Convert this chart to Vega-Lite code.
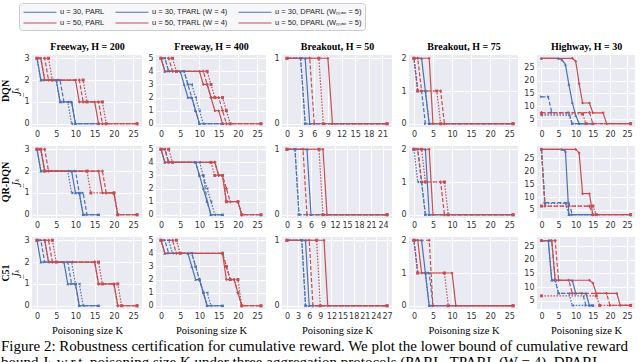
{
"$schema":"https://vega.github.io/schema/vega-lite/v6.json",
"padding":{"left":0,"top":2,"right":0,"bottom":0},
"background":"white",
"datasets":{"d":[
{"p":"d1","s":"A","k":0,"v":3},{"p":"d1","s":"A","k":1,"v":2},{"p":"d1","s":"A","k":5,"v":2},{"p":"d1","s":"A","k":6,"v":1},{"p":"d1","s":"A","k":9,"v":1},{"p":"d1","s":"A","k":10,"v":0},{"p":"d1","s":"A","k":16,"v":0},
{"p":"d1","s":"B","k":0,"v":3},{"p":"d1","s":"B","k":1,"v":2},{"p":"d1","s":"B","k":5,"v":2},{"p":"d1","s":"B","k":6,"v":1},{"p":"d1","s":"B","k":8,"v":1},{"p":"d1","s":"B","k":9,"v":0},{"p":"d1","s":"B","k":16,"v":0},
{"p":"d1","s":"C","k":0,"v":3},{"p":"d1","s":"C","k":1,"v":3},{"p":"d1","s":"C","k":2,"v":2},{"p":"d1","s":"C","k":6,"v":2},{"p":"d1","s":"C","k":7,"v":1},{"p":"d1","s":"C","k":9,"v":1},{"p":"d1","s":"C","k":10,"v":0},{"p":"d1","s":"C","k":16,"v":0},
{"p":"d1","s":"D","k":0,"v":3},{"p":"d1","s":"D","k":1,"v":3},{"p":"d1","s":"D","k":2,"v":2},{"p":"d1","s":"D","k":10,"v":2},{"p":"d1","s":"D","k":11,"v":1},{"p":"d1","s":"D","k":15,"v":1},{"p":"d1","s":"D","k":16,"v":0},{"p":"d1","s":"D","k":26,"v":0},
{"p":"d1","s":"E","k":0,"v":3},{"p":"d1","s":"E","k":3,"v":3},{"p":"d1","s":"E","k":4,"v":2},{"p":"d1","s":"E","k":12,"v":2},{"p":"d1","s":"E","k":13,"v":1},{"p":"d1","s":"E","k":17,"v":1},{"p":"d1","s":"E","k":18,"v":0},{"p":"d1","s":"E","k":26,"v":0},
{"p":"d1","s":"F","k":0,"v":3},{"p":"d1","s":"F","k":2,"v":3},{"p":"d1","s":"F","k":3,"v":2},{"p":"d1","s":"F","k":11,"v":2},{"p":"d1","s":"F","k":12,"v":1},{"p":"d1","s":"F","k":16,"v":1},{"p":"d1","s":"F","k":17,"v":0},{"p":"d1","s":"F","k":26,"v":0},
{"p":"d2","s":"A","k":0,"v":5},{"p":"d2","s":"A","k":1,"v":4},{"p":"d2","s":"A","k":5,"v":4},{"p":"d2","s":"A","k":6,"v":3},{"p":"d2","s":"A","k":7,"v":2},{"p":"d2","s":"A","k":8,"v":2},{"p":"d2","s":"A","k":9,"v":1},{"p":"d2","s":"A","k":10,"v":0},{"p":"d2","s":"A","k":16,"v":0},
{"p":"d2","s":"B","k":0,"v":5},{"p":"d2","s":"B","k":1,"v":5},{"p":"d2","s":"B","k":2,"v":4},{"p":"d2","s":"B","k":6,"v":4},{"p":"d2","s":"B","k":7,"v":3},{"p":"d2","s":"B","k":8,"v":3},{"p":"d2","s":"B","k":9,"v":2},{"p":"d2","s":"B","k":10,"v":1},{"p":"d2","s":"B","k":11,"v":0},{"p":"d2","s":"B","k":16,"v":0},
{"p":"d2","s":"C","k":0,"v":5},{"p":"d2","s":"C","k":1,"v":5},{"p":"d2","s":"C","k":2,"v":4},{"p":"d2","s":"C","k":6,"v":4},{"p":"d2","s":"C","k":7,"v":3},{"p":"d2","s":"C","k":8,"v":2},{"p":"d2","s":"C","k":9,"v":1},{"p":"d2","s":"C","k":10,"v":0},{"p":"d2","s":"C","k":16,"v":0},
{"p":"d2","s":"D","k":0,"v":5},{"p":"d2","s":"D","k":1,"v":4},{"p":"d2","s":"D","k":10,"v":4},{"p":"d2","s":"D","k":11,"v":3},{"p":"d2","s":"D","k":12,"v":3},{"p":"d2","s":"D","k":13,"v":2},{"p":"d2","s":"D","k":14,"v":1},{"p":"d2","s":"D","k":15,"v":1},{"p":"d2","s":"D","k":16,"v":0},{"p":"d2","s":"D","k":26,"v":0},
{"p":"d2","s":"E","k":0,"v":5},{"p":"d2","s":"E","k":3,"v":5},{"p":"d2","s":"E","k":4,"v":4},{"p":"d2","s":"E","k":12,"v":4},{"p":"d2","s":"E","k":13,"v":3},{"p":"d2","s":"E","k":14,"v":2},{"p":"d2","s":"E","k":16,"v":2},{"p":"d2","s":"E","k":17,"v":1},{"p":"d2","s":"E","k":18,"v":0},{"p":"d2","s":"E","k":26,"v":0},
{"p":"d2","s":"F","k":0,"v":5},{"p":"d2","s":"F","k":2,"v":5},{"p":"d2","s":"F","k":3,"v":4},{"p":"d2","s":"F","k":11,"v":4},{"p":"d2","s":"F","k":12,"v":3},{"p":"d2","s":"F","k":13,"v":2},{"p":"d2","s":"F","k":15,"v":2},{"p":"d2","s":"F","k":16,"v":1},{"p":"d2","s":"F","k":17,"v":0},{"p":"d2","s":"F","k":26,"v":0},
{"p":"d3","s":"A","k":0,"v":1},{"p":"d3","s":"A","k":4,"v":1},{"p":"d3","s":"A","k":5,"v":0},{"p":"d3","s":"A","k":22,"v":0},
{"p":"d3","s":"B","k":0,"v":1},{"p":"d3","s":"B","k":3,"v":1},{"p":"d3","s":"B","k":4,"v":0},{"p":"d3","s":"B","k":22,"v":0},
{"p":"d3","s":"C","k":0,"v":1},{"p":"d3","s":"C","k":3,"v":1},{"p":"d3","s":"C","k":4,"v":0},{"p":"d3","s":"C","k":22,"v":0},
{"p":"d3","s":"D","k":0,"v":1},{"p":"d3","s":"D","k":9,"v":1},{"p":"d3","s":"D","k":10,"v":0},{"p":"d3","s":"D","k":22,"v":0},
{"p":"d3","s":"E","k":0,"v":1},{"p":"d3","s":"E","k":7,"v":1},{"p":"d3","s":"E","k":8,"v":0},{"p":"d3","s":"E","k":22,"v":0},
{"p":"d3","s":"F","k":0,"v":1},{"p":"d3","s":"F","k":5,"v":1},{"p":"d3","s":"F","k":6,"v":0},{"p":"d3","s":"F","k":22,"v":0},
{"p":"d4","s":"A","k":0,"v":2},{"p":"d4","s":"A","k":2,"v":2},{"p":"d4","s":"A","k":3,"v":1},{"p":"d4","s":"A","k":4,"v":0},{"p":"d4","s":"A","k":26,"v":0},
{"p":"d4","s":"B","k":0,"v":2},{"p":"d4","s":"B","k":1,"v":1},{"p":"d4","s":"B","k":3,"v":1},{"p":"d4","s":"B","k":4,"v":0},{"p":"d4","s":"B","k":26,"v":0},
{"p":"d4","s":"C","k":0,"v":2},{"p":"d4","s":"C","k":1,"v":1},{"p":"d4","s":"C","k":2,"v":1},{"p":"d4","s":"C","k":3,"v":0},{"p":"d4","s":"C","k":26,"v":0},
{"p":"d4","s":"D","k":0,"v":2},{"p":"d4","s":"D","k":4,"v":2},{"p":"d4","s":"D","k":5,"v":0},{"p":"d4","s":"D","k":26,"v":0},
{"p":"d4","s":"E","k":0,"v":2},{"p":"d4","s":"E","k":1,"v":1},{"p":"d4","s":"E","k":6,"v":1},{"p":"d4","s":"E","k":7,"v":0},{"p":"d4","s":"E","k":26,"v":0},
{"p":"d4","s":"F","k":0,"v":2},{"p":"d4","s":"F","k":1,"v":2},{"p":"d4","s":"F","k":2,"v":1},{"p":"d4","s":"F","k":7,"v":1},{"p":"d4","s":"F","k":8,"v":0},{"p":"d4","s":"F","k":26,"v":0},
{"p":"d5","s":"A","k":0,"v":28.6},{"p":"d5","s":"A","k":5,"v":28.6},{"p":"d5","s":"A","k":6,"v":28},{"p":"d5","s":"A","k":7,"v":26.2},{"p":"d5","s":"A","k":8,"v":18.5},{"p":"d5","s":"A","k":9,"v":11.5},{"p":"d5","s":"A","k":10,"v":6.5},{"p":"d5","s":"A","k":11,"v":3.3},{"p":"d5","s":"A","k":15,"v":3.3},
{"p":"d5","s":"B","k":0,"v":6.6},{"p":"d5","s":"B","k":8,"v":6.6},{"p":"d5","s":"B","k":9,"v":3.3},{"p":"d5","s":"B","k":15,"v":3.3},
{"p":"d5","s":"C","k":0,"v":13.7},{"p":"d5","s":"C","k":2,"v":13.7},{"p":"d5","s":"C","k":3,"v":7.6},{"p":"d5","s":"C","k":8,"v":7.6},{"p":"d5","s":"C","k":9,"v":3.3},{"p":"d5","s":"C","k":15,"v":3.3},
{"p":"d5","s":"D","k":0,"v":28.6},{"p":"d5","s":"D","k":9,"v":28.6},{"p":"d5","s":"D","k":10,"v":27.5},{"p":"d5","s":"D","k":11,"v":18.8},{"p":"d5","s":"D","k":12,"v":11.3},{"p":"d5","s":"D","k":14,"v":11.3},{"p":"d5","s":"D","k":15,"v":7.5},{"p":"d5","s":"D","k":18,"v":7.5},{"p":"d5","s":"D","k":19,"v":3.3},{"p":"d5","s":"D","k":26,"v":3.3},
{"p":"d5","s":"E","k":0,"v":7.1},{"p":"d5","s":"E","k":12,"v":7.1},{"p":"d5","s":"E","k":13,"v":3.3},{"p":"d5","s":"E","k":26,"v":3.3},
{"p":"d5","s":"F","k":0,"v":7.6},{"p":"d5","s":"F","k":14,"v":7.6},{"p":"d5","s":"F","k":15,"v":3.3},{"p":"d5","s":"F","k":26,"v":3.3},
{"p":"q1","s":"A","k":0,"v":3},{"p":"q1","s":"A","k":1,"v":2},{"p":"q1","s":"A","k":9,"v":2},{"p":"q1","s":"A","k":10,"v":1},{"p":"q1","s":"A","k":11,"v":1},{"p":"q1","s":"A","k":12,"v":0},{"p":"q1","s":"A","k":16,"v":0},
{"p":"q1","s":"B","k":0,"v":3},{"p":"q1","s":"B","k":1,"v":2},{"p":"q1","s":"B","k":8,"v":2},{"p":"q1","s":"B","k":9,"v":1},{"p":"q1","s":"B","k":11,"v":1},{"p":"q1","s":"B","k":12,"v":0},{"p":"q1","s":"B","k":16,"v":0},
{"p":"q1","s":"C","k":0,"v":3},{"p":"q1","s":"C","k":1,"v":3},{"p":"q1","s":"C","k":2,"v":2},{"p":"q1","s":"C","k":10,"v":2},{"p":"q1","s":"C","k":11,"v":1},{"p":"q1","s":"C","k":12,"v":1},{"p":"q1","s":"C","k":13,"v":0},{"p":"q1","s":"C","k":16,"v":0},
{"p":"q1","s":"D","k":0,"v":3},{"p":"q1","s":"D","k":1,"v":3},{"p":"q1","s":"D","k":2,"v":2},{"p":"q1","s":"D","k":16,"v":2},{"p":"q1","s":"D","k":17,"v":1},{"p":"q1","s":"D","k":20,"v":1},{"p":"q1","s":"D","k":21,"v":0},{"p":"q1","s":"D","k":26,"v":0},
{"p":"q1","s":"E","k":0,"v":3},{"p":"q1","s":"E","k":1,"v":3},{"p":"q1","s":"E","k":2,"v":2},{"p":"q1","s":"E","k":13,"v":2},{"p":"q1","s":"E","k":14,"v":1},{"p":"q1","s":"E","k":20,"v":1},{"p":"q1","s":"E","k":21,"v":0},{"p":"q1","s":"E","k":26,"v":0},
{"p":"q1","s":"F","k":0,"v":3},{"p":"q1","s":"F","k":2,"v":3},{"p":"q1","s":"F","k":3,"v":2},{"p":"q1","s":"F","k":17,"v":2},{"p":"q1","s":"F","k":18,"v":1},{"p":"q1","s":"F","k":20,"v":1},{"p":"q1","s":"F","k":21,"v":0},{"p":"q1","s":"F","k":26,"v":0},
{"p":"q2","s":"A","k":0,"v":5},{"p":"q2","s":"A","k":1,"v":4},{"p":"q2","s":"A","k":9,"v":4},{"p":"q2","s":"A","k":10,"v":3},{"p":"q2","s":"A","k":11,"v":2},{"p":"q2","s":"A","k":12,"v":1},{"p":"q2","s":"A","k":13,"v":0},{"p":"q2","s":"A","k":16,"v":0},
{"p":"q2","s":"B","k":0,"v":5},{"p":"q2","s":"B","k":1,"v":5},{"p":"q2","s":"B","k":2,"v":4},{"p":"q2","s":"B","k":10,"v":4},{"p":"q2","s":"B","k":11,"v":3},{"p":"q2","s":"B","k":12,"v":2},{"p":"q2","s":"B","k":13,"v":1},{"p":"q2","s":"B","k":14,"v":0},{"p":"q2","s":"B","k":16,"v":0},
{"p":"q2","s":"C","k":0,"v":5},{"p":"q2","s":"C","k":1,"v":5},{"p":"q2","s":"C","k":2,"v":4},{"p":"q2","s":"C","k":9,"v":4},{"p":"q2","s":"C","k":10,"v":3},{"p":"q2","s":"C","k":11,"v":3},{"p":"q2","s":"C","k":12,"v":1},{"p":"q2","s":"C","k":13,"v":0},{"p":"q2","s":"C","k":16,"v":0},
{"p":"q2","s":"D","k":0,"v":5},{"p":"q2","s":"D","k":1,"v":4},{"p":"q2","s":"D","k":14,"v":4},{"p":"q2","s":"D","k":15,"v":3},{"p":"q2","s":"D","k":16,"v":3},{"p":"q2","s":"D","k":17,"v":1},{"p":"q2","s":"D","k":20,"v":1},{"p":"q2","s":"D","k":21,"v":0},{"p":"q2","s":"D","k":26,"v":0},
{"p":"q2","s":"E","k":0,"v":5},{"p":"q2","s":"E","k":2,"v":5},{"p":"q2","s":"E","k":3,"v":4},{"p":"q2","s":"E","k":13,"v":4},{"p":"q2","s":"E","k":14,"v":3},{"p":"q2","s":"E","k":16,"v":3},{"p":"q2","s":"E","k":17,"v":1},{"p":"q2","s":"E","k":20,"v":1},{"p":"q2","s":"E","k":21,"v":0},{"p":"q2","s":"E","k":26,"v":0},
{"p":"q2","s":"F","k":0,"v":5},{"p":"q2","s":"F","k":1,"v":5},{"p":"q2","s":"F","k":2,"v":4},{"p":"q2","s":"F","k":14,"v":4},{"p":"q2","s":"F","k":15,"v":3},{"p":"q2","s":"F","k":16,"v":3},{"p":"q2","s":"F","k":17,"v":2},{"p":"q2","s":"F","k":18,"v":1},{"p":"q2","s":"F","k":20,"v":1},{"p":"q2","s":"F","k":21,"v":0},{"p":"q2","s":"F","k":26,"v":0},
{"p":"q3","s":"A","k":0,"v":1},{"p":"q3","s":"A","k":5,"v":1},{"p":"q3","s":"A","k":6,"v":0},{"p":"q3","s":"A","k":25,"v":0},
{"p":"q3","s":"B","k":0,"v":1},{"p":"q3","s":"B","k":2,"v":1},{"p":"q3","s":"B","k":3,"v":0},{"p":"q3","s":"B","k":25,"v":0},
{"p":"q3","s":"C","k":0,"v":1},{"p":"q3","s":"C","k":2,"v":1},{"p":"q3","s":"C","k":3,"v":0},{"p":"q3","s":"C","k":25,"v":0},
{"p":"q3","s":"D","k":0,"v":1},{"p":"q3","s":"D","k":9,"v":1},{"p":"q3","s":"D","k":10,"v":0},{"p":"q3","s":"D","k":25,"v":0},
{"p":"q3","s":"E","k":0,"v":1},{"p":"q3","s":"E","k":8,"v":1},{"p":"q3","s":"E","k":9,"v":0},{"p":"q3","s":"E","k":25,"v":0},
{"p":"q3","s":"F","k":0,"v":1},{"p":"q3","s":"F","k":4,"v":1},{"p":"q3","s":"F","k":5,"v":0},{"p":"q3","s":"F","k":25,"v":0},
{"p":"q4","s":"A","k":0,"v":2},{"p":"q4","s":"A","k":3,"v":2},{"p":"q4","s":"A","k":4,"v":0},{"p":"q4","s":"A","k":26,"v":0},
{"p":"q4","s":"B","k":0,"v":2},{"p":"q4","s":"B","k":1,"v":1},{"p":"q4","s":"B","k":2,"v":1},{"p":"q4","s":"B","k":3,"v":0},{"p":"q4","s":"B","k":26,"v":0},
{"p":"q4","s":"C","k":0,"v":2},{"p":"q4","s":"C","k":1,"v":2},{"p":"q4","s":"C","k":2,"v":1},{"p":"q4","s":"C","k":3,"v":0},{"p":"q4","s":"C","k":26,"v":0},
{"p":"q4","s":"D","k":0,"v":2},{"p":"q4","s":"D","k":4,"v":2},{"p":"q4","s":"D","k":5,"v":0},{"p":"q4","s":"D","k":26,"v":0},
{"p":"q4","s":"E","k":0,"v":2},{"p":"q4","s":"E","k":2,"v":2},{"p":"q4","s":"E","k":3,"v":1},{"p":"q4","s":"E","k":8,"v":1},{"p":"q4","s":"E","k":9,"v":0},{"p":"q4","s":"E","k":26,"v":0},
{"p":"q4","s":"F","k":0,"v":2},{"p":"q4","s":"F","k":1,"v":2},{"p":"q4","s":"F","k":2,"v":1},{"p":"q4","s":"F","k":7,"v":1},{"p":"q4","s":"F","k":8,"v":0},{"p":"q4","s":"F","k":26,"v":0},
{"p":"q5","s":"A","k":0,"v":28.4},{"p":"q5","s":"A","k":6,"v":28.4},{"p":"q5","s":"A","k":7,"v":27.7},{"p":"q5","s":"A","k":8,"v":3.2},{"p":"q5","s":"A","k":15,"v":3.2},
{"p":"q5","s":"B","k":0,"v":28.4},{"p":"q5","s":"B","k":1,"v":7.5},{"p":"q5","s":"B","k":7,"v":7.5},{"p":"q5","s":"B","k":8,"v":3.2},{"p":"q5","s":"B","k":15,"v":3.2},
{"p":"q5","s":"C","k":0,"v":28.4},{"p":"q5","s":"C","k":1,"v":7.8},{"p":"q5","s":"C","k":8,"v":7.8},{"p":"q5","s":"C","k":9,"v":3.2},{"p":"q5","s":"C","k":15,"v":3.2},
{"p":"q5","s":"D","k":0,"v":28.4},{"p":"q5","s":"D","k":10,"v":28.4},{"p":"q5","s":"D","k":11,"v":27},{"p":"q5","s":"D","k":12,"v":11.3},{"p":"q5","s":"D","k":14,"v":11.3},{"p":"q5","s":"D","k":15,"v":3.2},{"p":"q5","s":"D","k":26,"v":3.2},
{"p":"q5","s":"E","k":0,"v":6.5},{"p":"q5","s":"E","k":15,"v":6.5},{"p":"q5","s":"E","k":16,"v":3.2},{"p":"q5","s":"E","k":26,"v":3.2},
{"p":"q5","s":"F","k":0,"v":28.4},{"p":"q5","s":"F","k":1,"v":6.5},{"p":"q5","s":"F","k":14,"v":6.5},{"p":"q5","s":"F","k":15,"v":3.2},{"p":"q5","s":"F","k":26,"v":3.2},
{"p":"c1","s":"A","k":0,"v":3},{"p":"c1","s":"A","k":1,"v":2},{"p":"c1","s":"A","k":7,"v":2},{"p":"c1","s":"A","k":8,"v":1},{"p":"c1","s":"A","k":10,"v":1},{"p":"c1","s":"A","k":11,"v":0},{"p":"c1","s":"A","k":16,"v":0},
{"p":"c1","s":"B","k":0,"v":3},{"p":"c1","s":"B","k":2,"v":3},{"p":"c1","s":"B","k":3,"v":2},{"p":"c1","s":"B","k":9,"v":2},{"p":"c1","s":"B","k":10,"v":1},{"p":"c1","s":"B","k":11,"v":1},{"p":"c1","s":"B","k":12,"v":0},{"p":"c1","s":"B","k":16,"v":0},
{"p":"c1","s":"C","k":0,"v":3},{"p":"c1","s":"C","k":1,"v":3},{"p":"c1","s":"C","k":2,"v":2},{"p":"c1","s":"C","k":8,"v":2},{"p":"c1","s":"C","k":9,"v":1},{"p":"c1","s":"C","k":10,"v":1},{"p":"c1","s":"C","k":11,"v":0},{"p":"c1","s":"C","k":16,"v":0},
{"p":"c1","s":"D","k":0,"v":3},{"p":"c1","s":"D","k":2,"v":3},{"p":"c1","s":"D","k":3,"v":2},{"p":"c1","s":"D","k":15,"v":2},{"p":"c1","s":"D","k":16,"v":1},{"p":"c1","s":"D","k":20,"v":1},{"p":"c1","s":"D","k":21,"v":0},{"p":"c1","s":"D","k":26,"v":0},
{"p":"c1","s":"E","k":0,"v":3},{"p":"c1","s":"E","k":4,"v":3},{"p":"c1","s":"E","k":5,"v":2},{"p":"c1","s":"E","k":16,"v":2},{"p":"c1","s":"E","k":17,"v":1},{"p":"c1","s":"E","k":21,"v":1},{"p":"c1","s":"E","k":22,"v":0},{"p":"c1","s":"E","k":26,"v":0},
{"p":"c1","s":"F","k":0,"v":3},{"p":"c1","s":"F","k":3,"v":3},{"p":"c1","s":"F","k":4,"v":2},{"p":"c1","s":"F","k":15,"v":2},{"p":"c1","s":"F","k":16,"v":1},{"p":"c1","s":"F","k":20,"v":1},{"p":"c1","s":"F","k":21,"v":0},{"p":"c1","s":"F","k":26,"v":0},
{"p":"c2","s":"A","k":0,"v":5},{"p":"c2","s":"A","k":1,"v":4},{"p":"c2","s":"A","k":7,"v":4},{"p":"c2","s":"A","k":8,"v":3},{"p":"c2","s":"A","k":9,"v":2},{"p":"c2","s":"A","k":10,"v":2},{"p":"c2","s":"A","k":11,"v":1},{"p":"c2","s":"A","k":12,"v":0},{"p":"c2","s":"A","k":16,"v":0},
{"p":"c2","s":"B","k":0,"v":5},{"p":"c2","s":"B","k":2,"v":5},{"p":"c2","s":"B","k":3,"v":4},{"p":"c2","s":"B","k":8,"v":4},{"p":"c2","s":"B","k":9,"v":3},{"p":"c2","s":"B","k":10,"v":2},{"p":"c2","s":"B","k":11,"v":1},{"p":"c2","s":"B","k":12,"v":1},{"p":"c2","s":"B","k":13,"v":0},{"p":"c2","s":"B","k":16,"v":0},
{"p":"c2","s":"C","k":0,"v":5},{"p":"c2","s":"C","k":1,"v":5},{"p":"c2","s":"C","k":2,"v":4},{"p":"c2","s":"C","k":8,"v":4},{"p":"c2","s":"C","k":9,"v":3},{"p":"c2","s":"C","k":10,"v":2},{"p":"c2","s":"C","k":11,"v":1},{"p":"c2","s":"C","k":12,"v":0},{"p":"c2","s":"C","k":16,"v":0},
{"p":"c2","s":"D","k":0,"v":5},{"p":"c2","s":"D","k":1,"v":4},{"p":"c2","s":"D","k":16,"v":4},{"p":"c2","s":"D","k":17,"v":2},{"p":"c2","s":"D","k":19,"v":2},{"p":"c2","s":"D","k":20,"v":1},{"p":"c2","s":"D","k":21,"v":0},{"p":"c2","s":"D","k":26,"v":0},
{"p":"c2","s":"E","k":0,"v":5},{"p":"c2","s":"E","k":4,"v":5},{"p":"c2","s":"E","k":5,"v":4},{"p":"c2","s":"E","k":16,"v":4},{"p":"c2","s":"E","k":17,"v":3},{"p":"c2","s":"E","k":18,"v":2},{"p":"c2","s":"E","k":20,"v":2},{"p":"c2","s":"E","k":21,"v":0},{"p":"c2","s":"E","k":26,"v":0},
{"p":"c2","s":"F","k":0,"v":5},{"p":"c2","s":"F","k":3,"v":5},{"p":"c2","s":"F","k":4,"v":4},{"p":"c2","s":"F","k":16,"v":4},{"p":"c2","s":"F","k":17,"v":3},{"p":"c2","s":"F","k":18,"v":2},{"p":"c2","s":"F","k":19,"v":2},{"p":"c2","s":"F","k":20,"v":1},{"p":"c2","s":"F","k":21,"v":0},{"p":"c2","s":"F","k":26,"v":0},
{"p":"c3","s":"A","k":0,"v":1},{"p":"c3","s":"A","k":5,"v":1},{"p":"c3","s":"A","k":6,"v":0},{"p":"c3","s":"A","k":27,"v":0},
{"p":"c3","s":"B","k":0,"v":1},{"p":"c3","s":"B","k":4,"v":1},{"p":"c3","s":"B","k":5,"v":0},{"p":"c3","s":"B","k":27,"v":0},
{"p":"c3","s":"C","k":0,"v":1},{"p":"c3","s":"C","k":4,"v":1},{"p":"c3","s":"C","k":5,"v":0},{"p":"c3","s":"C","k":27,"v":0},
{"p":"c3","s":"D","k":0,"v":1},{"p":"c3","s":"D","k":10,"v":1},{"p":"c3","s":"D","k":11,"v":0},{"p":"c3","s":"D","k":27,"v":0},
{"p":"c3","s":"E","k":0,"v":1},{"p":"c3","s":"E","k":8,"v":1},{"p":"c3","s":"E","k":9,"v":0},{"p":"c3","s":"E","k":27,"v":0},
{"p":"c3","s":"F","k":0,"v":1},{"p":"c3","s":"F","k":6,"v":1},{"p":"c3","s":"F","k":7,"v":0},{"p":"c3","s":"F","k":27,"v":0},
{"p":"c4","s":"A","k":0,"v":2},{"p":"c4","s":"A","k":2,"v":2},{"p":"c4","s":"A","k":3,"v":1},{"p":"c4","s":"A","k":4,"v":0},{"p":"c4","s":"A","k":26,"v":0},
{"p":"c4","s":"B","k":0,"v":2},{"p":"c4","s":"B","k":1,"v":1},{"p":"c4","s":"B","k":3,"v":1},{"p":"c4","s":"B","k":4,"v":0},{"p":"c4","s":"B","k":26,"v":0},
{"p":"c4","s":"C","k":0,"v":2},{"p":"c4","s":"C","k":1,"v":1},{"p":"c4","s":"C","k":4,"v":1},{"p":"c4","s":"C","k":5,"v":0},{"p":"c4","s":"C","k":26,"v":0},
{"p":"c4","s":"D","k":0,"v":2},{"p":"c4","s":"D","k":1,"v":2},{"p":"c4","s":"D","k":2,"v":1},{"p":"c4","s":"D","k":10,"v":1},{"p":"c4","s":"D","k":11,"v":0},{"p":"c4","s":"D","k":26,"v":0},
{"p":"c4","s":"E","k":0,"v":2},{"p":"c4","s":"E","k":1,"v":1},{"p":"c4","s":"E","k":8,"v":1},{"p":"c4","s":"E","k":9,"v":0},{"p":"c4","s":"E","k":26,"v":0},
{"p":"c4","s":"F","k":0,"v":2},{"p":"c4","s":"F","k":4,"v":2},{"p":"c4","s":"F","k":5,"v":0},{"p":"c4","s":"F","k":26,"v":0},
{"p":"c5","s":"A","k":0,"v":27},{"p":"c5","s":"A","k":2,"v":27},{"p":"c5","s":"A","k":3,"v":12.5},{"p":"c5","s":"A","k":9,"v":12.5},{"p":"c5","s":"A","k":10,"v":7.7},{"p":"c5","s":"A","k":13,"v":7.7},{"p":"c5","s":"A","k":14,"v":3.3},{"p":"c5","s":"A","k":15,"v":3.3},
{"p":"c5","s":"B","k":0,"v":27},{"p":"c5","s":"B","k":2,"v":27},{"p":"c5","s":"B","k":3,"v":12.5},{"p":"c5","s":"B","k":4,"v":12.5},{"p":"c5","s":"B","k":5,"v":7.7},{"p":"c5","s":"B","k":8,"v":7.7},{"p":"c5","s":"B","k":9,"v":3.3},{"p":"c5","s":"B","k":15,"v":3.3},
{"p":"c5","s":"C","k":0,"v":27},{"p":"c5","s":"C","k":3,"v":27},{"p":"c5","s":"C","k":4,"v":12.5},{"p":"c5","s":"C","k":5,"v":7.7},{"p":"c5","s":"C","k":12,"v":7.7},{"p":"c5","s":"C","k":13,"v":3.3},{"p":"c5","s":"C","k":15,"v":3.3},
{"p":"c5","s":"D","k":0,"v":27},{"p":"c5","s":"D","k":3,"v":27},{"p":"c5","s":"D","k":4,"v":12.5},{"p":"c5","s":"D","k":14,"v":12.5},{"p":"c5","s":"D","k":15,"v":11.5},{"p":"c5","s":"D","k":16,"v":7.7},{"p":"c5","s":"D","k":22,"v":7.7},{"p":"c5","s":"D","k":23,"v":3.3},{"p":"c5","s":"D","k":26,"v":3.3},
{"p":"c5","s":"E","k":0,"v":6.8},{"p":"c5","s":"E","k":16,"v":6.8},{"p":"c5","s":"E","k":17,"v":3.3},{"p":"c5","s":"E","k":26,"v":3.3},
{"p":"c5","s":"F","k":0,"v":27},{"p":"c5","s":"F","k":4,"v":27},{"p":"c5","s":"F","k":5,"v":12.5},{"p":"c5","s":"F","k":8,"v":12.5},{"p":"c5","s":"F","k":9,"v":7.7},{"p":"c5","s":"F","k":19,"v":7.7},{"p":"c5","s":"F","k":20,"v":3.3},{"p":"c5","s":"F","k":26,"v":3.3}
]},
"data":{"name":"d"},
"title":{"text":"Figure 2: Robustness certification for cumulative reward. We plot the lower bound of cumulative reward","subtitle":"bound J̲ₖ w.r.t. poisoning size K under three aggregation protocols (PARL, TPARL (W = 4), DPARL","orient":"bottom","anchor":"start","frame":"bounds","font":"Liberation Serif","fontSize":15,"fontWeight":"normal","subtitleFont":"Liberation Serif","subtitleFontSize":15,"subtitleFontStyle":"normal","color":"black","subtitleColor":"black","offset":3,"subtitlePadding":1},
"columns":5,
"spacing":{"row":4,"column":5},
"concat":[
{"width":110,"height":72,"transform":[{"filter":"datum.p=='d1'"}],"title":{"text":"DQN","subtitle":"J̲ₖ","orient":"left"},"resolve":{"axis":{"x":"independent"}},
"encoding":{"x":{"field":"k","type":"quantitative","scale":{"domain":[-1.3,27.3],"nice":false,"zero":false},"axis":{"values":[0,5,10,15,20,25],"title":null,"minExtent":14,"maxExtent":14}},"y":{"field":"v","type":"quantitative","scale":{"domain":[-0.15,3.15],"nice":false,"zero":false},"axis":{"values":[0,1,2,3],"format":"d","title":null,"minExtent":9,"maxExtent":9}},"color":{"field":"s","type":"nominal","title":null,"legend":{"orient":"none","legendX":-13,"legendY":-52,"columns":3,"direction":"horizontal","symbolType":"M-3.3,0H3.3","labelExpr":"datum.label=='A'?'u = 30, PARL':datum.label=='B'?'u = 30, TPARL (W = 4)':datum.label=='C'?'u = 30, DPARL (Wₘₐₓ = 5)':datum.label=='D'?'u = 50, PARL':datum.label=='E'?'u = 50, TPARL (W = 4)':'u = 50, DPARL (Wₘₐₓ = 5)'"}}},
"layer":[{"mark":"line","encoding":{"strokeDash":{"field":"s","type":"nominal","title":null,"scale":{"range":[[1,0],[1.5,1.5],[4,2],[1,0],[1.5,1.5],[4,2]]}}}},{"mark":"point","encoding":{"shape":{"field":"s","type":"nominal","legend":null},"x":{"field":"k","type":"quantitative","axis":{"orient":"top","title":"Freeway, H = 200","labels":false,"grid":false,"minExtent":0,"maxExtent":0,"titlePadding":4,"titleFontWeight":"bold","titleFontSize":10}}}}]},
{"width":110,"height":72,"transform":[{"filter":"datum.p=='d2'"}],"resolve":{"axis":{"x":"independent"}},
"encoding":{"x":{"field":"k","type":"quantitative","scale":{"domain":[-1.3,27.3],"nice":false,"zero":false},"axis":{"values":[0,5,10,15,20,25],"title":null,"minExtent":14,"maxExtent":14}},"y":{"field":"v","type":"quantitative","scale":{"domain":[-0.25,5.25],"nice":false,"zero":false},"axis":{"values":[0,1,2,3,4,5],"format":"d","title":null,"minExtent":9,"maxExtent":9}},"color":{"field":"s","type":"nominal","title":null}},
"layer":[{"mark":"line","encoding":{"strokeDash":{"field":"s","type":"nominal","title":null,"scale":{"range":[[1,0],[1.5,1.5],[4,2],[1,0],[1.5,1.5],[4,2]]}}}},{"mark":"point","encoding":{"shape":{"field":"s","type":"nominal","legend":null},"x":{"field":"k","type":"quantitative","axis":{"orient":"top","title":"Freeway, H = 400","labels":false,"grid":false,"minExtent":0,"maxExtent":0,"titlePadding":4,"titleFontWeight":"bold","titleFontSize":10}}}}]},
{"width":110,"height":72,"transform":[{"filter":"datum.p=='d3'"}],"resolve":{"axis":{"x":"independent"}},
"encoding":{"x":{"field":"k","type":"quantitative","scale":{"domain":[-1.1,23.1],"nice":false,"zero":false},"axis":{"values":[0,3,6,9,12,15,18,21],"title":null,"minExtent":14,"maxExtent":14}},"y":{"field":"v","type":"quantitative","scale":{"domain":[-0.05,1.05],"nice":false,"zero":false},"axis":{"values":[0,1],"format":"d","title":null,"minExtent":11,"maxExtent":11}},"color":{"field":"s","type":"nominal","title":null}},
"layer":[{"mark":"line","encoding":{"strokeDash":{"field":"s","type":"nominal","title":null,"scale":{"range":[[1,0],[1.5,1.5],[4,2],[1,0],[1.5,1.5],[4,2]]}}}},{"mark":"point","encoding":{"shape":{"field":"s","type":"nominal","legend":null},"x":{"field":"k","type":"quantitative","axis":{"orient":"top","title":"Breakout, H = 50","labels":false,"grid":false,"minExtent":0,"maxExtent":0,"titlePadding":4,"titleFontWeight":"bold","titleFontSize":10}}}}]},
{"width":109,"height":72,"transform":[{"filter":"datum.p=='d4'"}],"resolve":{"axis":{"x":"independent"}},
"encoding":{"x":{"field":"k","type":"quantitative","scale":{"domain":[-1.3,27.3],"nice":false,"zero":false},"axis":{"values":[0,5,10,15,20,25],"title":null,"minExtent":14,"maxExtent":14}},"y":{"field":"v","type":"quantitative","scale":{"domain":[-0.1,2.1],"nice":false,"zero":false},"axis":{"values":[0,1,2],"format":"d","title":null,"minExtent":11,"maxExtent":11}},"color":{"field":"s","type":"nominal","title":null}},
"layer":[{"mark":"line","encoding":{"strokeDash":{"field":"s","type":"nominal","title":null,"scale":{"range":[[1,0],[1.5,1.5],[4,2],[1,0],[1.5,1.5],[4,2]]}}}},{"mark":"point","encoding":{"shape":{"field":"s","type":"nominal","legend":null},"x":{"field":"k","type":"quantitative","axis":{"orient":"top","title":"Breakout, H = 75","labels":false,"grid":false,"minExtent":0,"maxExtent":0,"titlePadding":4,"titleFontWeight":"bold","titleFontSize":10}}}}]},
{"width":98,"height":72,"transform":[{"filter":"datum.p=='d5'"}],"resolve":{"axis":{"x":"independent"}},
"encoding":{"x":{"field":"k","type":"quantitative","scale":{"domain":[-1.3,27.3],"nice":false,"zero":false},"axis":{"values":[0,5,10,15,20,25],"title":null,"minExtent":14,"maxExtent":14}},"y":{"field":"v","type":"quantitative","scale":{"domain":[2.0,29.9],"nice":false,"zero":false},"axis":{"values":[5,10,15,20,25],"format":"d","title":null,"minExtent":12,"maxExtent":12}},"color":{"field":"s","type":"nominal","title":null}},
"layer":[{"mark":"line","encoding":{"strokeDash":{"field":"s","type":"nominal","title":null,"scale":{"range":[[1,0],[1.5,1.5],[4,2],[1,0],[1.5,1.5],[4,2]]}}}},{"mark":"point","encoding":{"shape":{"field":"s","type":"nominal","legend":null},"x":{"field":"k","type":"quantitative","axis":{"orient":"top","title":"Highway, H = 30","labels":false,"grid":false,"minExtent":0,"maxExtent":0,"titlePadding":4,"titleFontWeight":"bold","titleFontSize":10}}}}]},
{"width":110,"height":72,"transform":[{"filter":"datum.p=='q1'"}],"title":{"text":"QR-DQN","subtitle":"J̲ₖ","orient":"left"},
"encoding":{"x":{"field":"k","type":"quantitative","scale":{"domain":[-1.3,27.3],"nice":false,"zero":false},"axis":{"values":[0,5,10,15,20,25],"title":null,"minExtent":14,"maxExtent":14}},"y":{"field":"v","type":"quantitative","scale":{"domain":[-0.15,3.15],"nice":false,"zero":false},"axis":{"values":[0,1,2,3],"format":"d","title":null,"minExtent":9,"maxExtent":9}},"color":{"field":"s","type":"nominal","title":null}},
"layer":[{"mark":"line","encoding":{"strokeDash":{"field":"s","type":"nominal","title":null,"scale":{"range":[[1,0],[1.5,1.5],[4,2],[1,0],[1.5,1.5],[4,2]]}}}},{"mark":"point","encoding":{"shape":{"field":"s","type":"nominal","legend":null}}}]},
{"width":110,"height":72,"transform":[{"filter":"datum.p=='q2'"}],
"encoding":{"x":{"field":"k","type":"quantitative","scale":{"domain":[-1.3,27.3],"nice":false,"zero":false},"axis":{"values":[0,5,10,15,20,25],"title":null,"minExtent":14,"maxExtent":14}},"y":{"field":"v","type":"quantitative","scale":{"domain":[-0.25,5.25],"nice":false,"zero":false},"axis":{"values":[0,1,2,3,4,5],"format":"d","title":null,"minExtent":9,"maxExtent":9}},"color":{"field":"s","type":"nominal","title":null}},
"layer":[{"mark":"line","encoding":{"strokeDash":{"field":"s","type":"nominal","title":null,"scale":{"range":[[1,0],[1.5,1.5],[4,2],[1,0],[1.5,1.5],[4,2]]}}}},{"mark":"point","encoding":{"shape":{"field":"s","type":"nominal","legend":null}}}]},
{"width":110,"height":72,"transform":[{"filter":"datum.p=='q3'"}],
"encoding":{"x":{"field":"k","type":"quantitative","scale":{"domain":[-1.25,26.25],"nice":false,"zero":false},"axis":{"values":[0,3,6,9,12,15,18,21,24],"title":null,"minExtent":14,"maxExtent":14}},"y":{"field":"v","type":"quantitative","scale":{"domain":[-0.05,1.05],"nice":false,"zero":false},"axis":{"values":[0,1],"format":"d","title":null,"minExtent":11,"maxExtent":11}},"color":{"field":"s","type":"nominal","title":null}},
"layer":[{"mark":"line","encoding":{"strokeDash":{"field":"s","type":"nominal","title":null,"scale":{"range":[[1,0],[1.5,1.5],[4,2],[1,0],[1.5,1.5],[4,2]]}}}},{"mark":"point","encoding":{"shape":{"field":"s","type":"nominal","legend":null}}}]},
{"width":109,"height":72,"transform":[{"filter":"datum.p=='q4'"}],
"encoding":{"x":{"field":"k","type":"quantitative","scale":{"domain":[-1.3,27.3],"nice":false,"zero":false},"axis":{"values":[0,5,10,15,20,25],"title":null,"minExtent":14,"maxExtent":14}},"y":{"field":"v","type":"quantitative","scale":{"domain":[-0.1,2.1],"nice":false,"zero":false},"axis":{"values":[0,1,2],"format":"d","title":null,"minExtent":11,"maxExtent":11}},"color":{"field":"s","type":"nominal","title":null}},
"layer":[{"mark":"line","encoding":{"strokeDash":{"field":"s","type":"nominal","title":null,"scale":{"range":[[1,0],[1.5,1.5],[4,2],[1,0],[1.5,1.5],[4,2]]}}}},{"mark":"point","encoding":{"shape":{"field":"s","type":"nominal","legend":null}}}]},
{"width":98,"height":72,"transform":[{"filter":"datum.p=='q5'"}],
"encoding":{"x":{"field":"k","type":"quantitative","scale":{"domain":[-1.3,27.3],"nice":false,"zero":false},"axis":{"values":[0,5,10,15,20,25],"title":null,"minExtent":14,"maxExtent":14}},"y":{"field":"v","type":"quantitative","scale":{"domain":[1.9,29.7],"nice":false,"zero":false},"axis":{"values":[5,10,15,20,25],"format":"d","title":null,"minExtent":12,"maxExtent":12}},"color":{"field":"s","type":"nominal","title":null}},
"layer":[{"mark":"line","encoding":{"strokeDash":{"field":"s","type":"nominal","title":null,"scale":{"range":[[1,0],[1.5,1.5],[4,2],[1,0],[1.5,1.5],[4,2]]}}}},{"mark":"point","encoding":{"shape":{"field":"s","type":"nominal","legend":null}}}]},
{"width":110,"height":72,"transform":[{"filter":"datum.p=='c1'"}],"title":{"text":"C51","subtitle":"J̲ₖ","orient":"left"},
"encoding":{"x":{"field":"k","type":"quantitative","scale":{"domain":[-1.3,27.3],"nice":false,"zero":false},"axis":{"values":[0,5,10,15,20,25],"title":"Poisoning size K","minExtent":14,"maxExtent":14}},"y":{"field":"v","type":"quantitative","scale":{"domain":[-0.15,3.15],"nice":false,"zero":false},"axis":{"values":[0,1,2,3],"format":"d","title":null,"minExtent":9,"maxExtent":9}},"color":{"field":"s","type":"nominal","title":null}},
"layer":[{"mark":"line","encoding":{"strokeDash":{"field":"s","type":"nominal","title":null,"scale":{"range":[[1,0],[1.5,1.5],[4,2],[1,0],[1.5,1.5],[4,2]]}}}},{"mark":"point","encoding":{"shape":{"field":"s","type":"nominal","legend":null}}}]},
{"width":110,"height":72,"transform":[{"filter":"datum.p=='c2'"}],
"encoding":{"x":{"field":"k","type":"quantitative","scale":{"domain":[-1.3,27.3],"nice":false,"zero":false},"axis":{"values":[0,5,10,15,20,25],"title":"Poisoning size K","minExtent":14,"maxExtent":14}},"y":{"field":"v","type":"quantitative","scale":{"domain":[-0.25,5.25],"nice":false,"zero":false},"axis":{"values":[0,1,2,3,4,5],"format":"d","title":null,"minExtent":9,"maxExtent":9}},"color":{"field":"s","type":"nominal","title":null}},
"layer":[{"mark":"line","encoding":{"strokeDash":{"field":"s","type":"nominal","title":null,"scale":{"range":[[1,0],[1.5,1.5],[4,2],[1,0],[1.5,1.5],[4,2]]}}}},{"mark":"point","encoding":{"shape":{"field":"s","type":"nominal","legend":null}}}]},
{"width":110,"height":72,"transform":[{"filter":"datum.p=='c3'"}],
"encoding":{"x":{"field":"k","type":"quantitative","scale":{"domain":[-1.35,28.35],"nice":false,"zero":false},"axis":{"values":[0,3,6,9,12,15,18,21,24,27],"title":"Poisoning size K","minExtent":14,"maxExtent":14}},"y":{"field":"v","type":"quantitative","scale":{"domain":[-0.05,1.05],"nice":false,"zero":false},"axis":{"values":[0,1],"format":"d","title":null,"minExtent":11,"maxExtent":11}},"color":{"field":"s","type":"nominal","title":null}},
"layer":[{"mark":"line","encoding":{"strokeDash":{"field":"s","type":"nominal","title":null,"scale":{"range":[[1,0],[1.5,1.5],[4,2],[1,0],[1.5,1.5],[4,2]]}}}},{"mark":"point","encoding":{"shape":{"field":"s","type":"nominal","legend":null}}}]},
{"width":109,"height":72,"transform":[{"filter":"datum.p=='c4'"}],
"encoding":{"x":{"field":"k","type":"quantitative","scale":{"domain":[-1.3,27.3],"nice":false,"zero":false},"axis":{"values":[0,5,10,15,20,25],"title":"Poisoning size K","minExtent":14,"maxExtent":14}},"y":{"field":"v","type":"quantitative","scale":{"domain":[-0.1,2.1],"nice":false,"zero":false},"axis":{"values":[0,1,2],"format":"d","title":null,"minExtent":11,"maxExtent":11}},"color":{"field":"s","type":"nominal","title":null}},
"layer":[{"mark":"line","encoding":{"strokeDash":{"field":"s","type":"nominal","title":null,"scale":{"range":[[1,0],[1.5,1.5],[4,2],[1,0],[1.5,1.5],[4,2]]}}}},{"mark":"point","encoding":{"shape":{"field":"s","type":"nominal","legend":null}}}]},
{"width":98,"height":72,"transform":[{"filter":"datum.p=='c5'"}],
"encoding":{"x":{"field":"k","type":"quantitative","scale":{"domain":[-1.3,27.3],"nice":false,"zero":false},"axis":{"values":[0,5,10,15,20,25],"title":"Poisoning size K","minExtent":14,"maxExtent":14}},"y":{"field":"v","type":"quantitative","scale":{"domain":[2.0,28.3],"nice":false,"zero":false},"axis":{"values":[5,10,15,20,25],"format":"d","title":null,"minExtent":12,"maxExtent":12}},"color":{"field":"s","type":"nominal","title":null}},
"layer":[{"mark":"line","encoding":{"strokeDash":{"field":"s","type":"nominal","title":null,"scale":{"range":[[1,0],[1.5,1.5],[4,2],[1,0],[1.5,1.5],[4,2]]}}}},{"mark":"point","encoding":{"shape":{"field":"s","type":"nominal","legend":null}}}]}
],
"config":{
"view":{"fill":"#EAEAF2","stroke":null},
"axis":{"domain":false,"ticks":false,"tickSize":0,"gridColor":"#FFFFFF","gridWidth":1,"labelFont":"DejaVu Sans","labelFontSize":8,"labelColor":"#333333","labelPadding":3,"labelOverlap":false,"labelFlush":false,"labelBound":false,"titleFont":"Liberation Serif","titleFontSize":10.5,"titleFontWeight":"normal","titleColor":"black","titlePadding":2},
"axisX":{"labelFlush":false},
"title":{"font":"Liberation Serif","fontSize":10,"fontWeight":"bold","color":"black","subtitleFont":"DejaVu Serif","subtitleFontStyle":"italic","subtitleFontSize":9,"subtitleColor":"black","offset":2,"subtitlePadding":1},
"legend":{"symbolSize":100,"symbolStrokeWidth":1.5,"symbolOffset":12,"labelFont":"Liberation Sans","labelFontSize":7.5,"labelColor":"#262626","fillColor":"#F7F7F9","strokeColor":"#CCCCCC","padding":3,"cornerRadius":3,"rowPadding":1,"columnPadding":8,"labelOffset":14},
"range":{"category":["#4C72B0","#4C72B0","#4C72B0","#C44E52","#C44E52","#C44E52"],"symbol":["triangle-up","triangle-left","triangle-right","diamond","square","cross"]},
"line":{"strokeWidth":1.2},
"point":{"filled":true,"size":9,"opacity":1}
}
}
